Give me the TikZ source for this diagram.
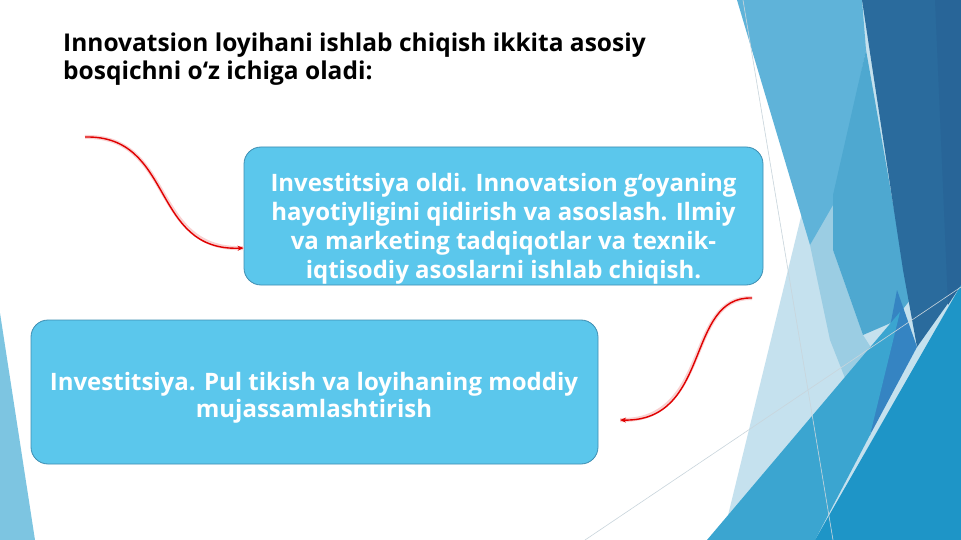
\documentclass[tikz,border=0pt]{standalone}
\usepackage{fontspec}
\setmainfont{Open Sans}
\usetikzlibrary{arrows.meta}
\definecolor{boxfill}{HTML}{5BC7EC}
\definecolor{boxline}{HTML}{3E8EB2}
\definecolor{pale}{HTML}{C5E1EE}
\definecolor{lightpale}{HTML}{9BCDE3}
\definecolor{lightb}{HTML}{5FB3D9}
\definecolor{midb}{HTML}{4EA8D0}
\definecolor{darkb}{HTML}{2A6B9D}
\definecolor{darkerb}{HTML}{286598}
\definecolor{bigb}{HTML}{3BA5D0}
\definecolor{deepb}{HTML}{1E95C7}
\definecolor{stripb}{HTML}{3584C2}
\definecolor{leftb}{HTML}{7DC5E1}
\definecolor{thinl}{HTML}{C9D5DC}
\definecolor{arrowred}{HTML}{E00000}
\tikzset{
  box/.style={draw=boxline, line width=0.8pt, fill=boxfill, rounded corners=17pt, inner sep=0pt},
  boxtext/.style={text=white, align=center, inner sep=0pt},
  title/.style={anchor=north west, align=left, font=\bfseries\fontsize{24.5}{28}\selectfont, inner sep=0pt},
  glow/.style={line width=4pt, draw=arrowred!18},
  redarrow/.style={line width=1.4pt, draw=arrowred, -{Stealth[length=6pt,width=5pt]}},
  thin/.style={draw=thinl, line width=0.6pt},
}
\begin{document}
\begin{tikzpicture}[x=1pt,y=-1pt]
\useasboundingbox (0,0) rectangle (961,540);
\fill[white] (0,0) rectangle (961,540);
% right facets
\fill[pale] (854,0) -- (722,540) -- (961,540) -- (961,0) -- cycle;
\fill[lightpale] (833,200) -- (810,245) -- (830,340) -- (845,378) -- (884,368) -- (863,335) -- (833,250) -- cycle;
\fill[lightb] (737,0) -- (862,0) -- (866,50) -- (833,205) -- (810,245) -- cycle;
\fill[midb] (866,50) -- (910,300) -- (893,322) -- (863,335) -- (833,250) -- (833,195) -- cycle;
\fill[stripb] (897,290) -- (917,347) -- (870,435) -- (880,380) -- cycle;
\fill[darkb] (862,0) -- (961,0) -- (961,285) -- (917,347) -- (903,270) -- cycle;
\fill[darkerb] (935,0) -- (961,0) -- (961,285) -- (948,305) -- cycle;
\fill[bigb] (707,540) -- (900,312) -- (870,435) -- (815,540) -- cycle;
\fill[deepb] (961,285) -- (815,540) -- (961,540) -- cycle;
\draw[thin] (743,0) -- (833,540);
\draw[thin] (585,540) -- (961,287);
% left strip
\fill[leftb] (0,313) -- (35,540) -- (0,540) -- cycle;
% title
\node[title] (t) at (63,33) {Innovatsion loyihani ishlab chiqish ikkita asosiy\\bosqichni o‘z ichiga oladi:};
% boxes
\node[box, minimum width=519pt, minimum height=138pt] (b1) at (503.5,216) {};
\node[boxtext, font=\bfseries\fontsize{24}{29}\selectfont] (b1t) at (503.5,229)
  {Investitsiya oldi. Innovatsion g‘oyaning\\hayotiyligini qidirish va asoslash. Ilmiy\\va marketing tadqiqotlar va texnik-\\iqtisodiy asoslarni ishlab chiqish.};
\node[box, minimum width=567pt, minimum height=144pt] (b2) at (314.5,392) {};
\node[boxtext, font=\bfseries\fontsize{24}{27}\selectfont] (b2t) at (314,397.5)
  {Investitsiya. Pul tikish va loyihaning moddiy\\mujassamlashtirish};
% arrows
\coordinate (a1s) at (85,137);
\coordinate (a2s) at (752,298);
\coordinate (a2e) at (620,420);
\draw[glow] (a1s) .. controls (175,135) and (150,252) .. (b1.west |- 0,248);
\draw[redarrow] (a1s) .. controls (175,135) and (150,252) .. (b1.west |- 0,248);
\draw[glow] (a2s) .. controls (685,296) and (712,422) .. (a2e);
\draw[redarrow] (a2s) .. controls (685,296) and (712,422) .. (a2e);
\end{tikzpicture}
\end{document}
